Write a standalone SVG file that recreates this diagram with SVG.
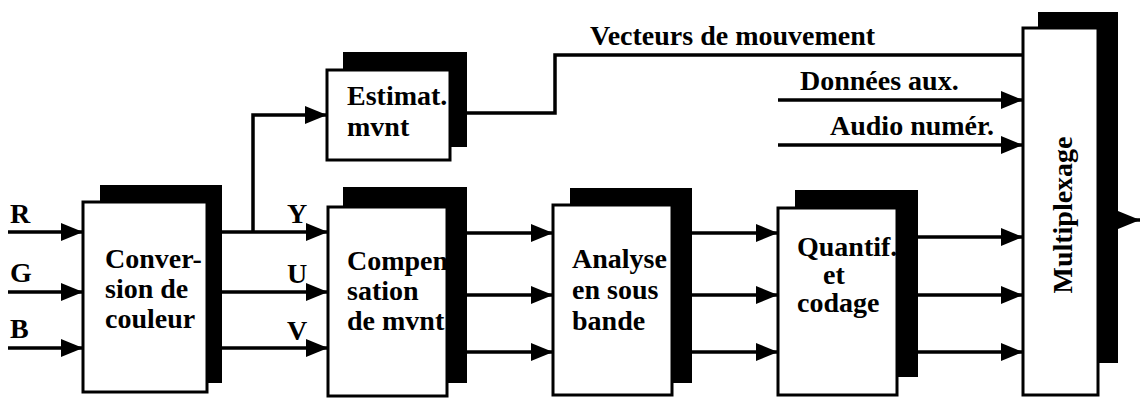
<svg xmlns="http://www.w3.org/2000/svg" width="1140" height="398" viewBox="0 0 1140 398">
<style>
.shadow{fill:#000;stroke:none}
.box{fill:#fff;stroke:#000;stroke-width:3}
.t{font-size:28px;font-weight:bold;fill:#000}
.lbl{font-size:28px;font-weight:bold;fill:#000}
.c{fill:none;stroke:#000;stroke-width:3.5}
</style>
<defs>
<marker id="ah" markerUnits="userSpaceOnUse" markerWidth="22" markerHeight="18" refX="22" refY="9" orient="auto">
<path d="M0,0 L22,9 L0,18 z" fill="#000"/>
</marker>
</defs>
<rect width="1140" height="398" fill="#fff"/>

<g id="connectors" font-family="'Liberation Serif', 'DejaVu Serif', serif">
<line class="c" x1="8" y1="232" x2="83" y2="232" marker-end="url(#ah)"/>
<line class="c" x1="8" y1="292" x2="83" y2="292" marker-end="url(#ah)"/>
<line class="c" x1="8" y1="348" x2="83" y2="348" marker-end="url(#ah)"/>
<line class="c" x1="222" y1="232" x2="328" y2="232" marker-end="url(#ah)"/>
<line class="c" x1="222" y1="292" x2="328" y2="292" marker-end="url(#ah)"/>
<line class="c" x1="222" y1="348" x2="328" y2="348" marker-end="url(#ah)"/>
<polyline class="c" points="253,232 253,115 327,115" marker-end="url(#ah)"/>
<polyline class="c" points="467,113 555,113 555,55 1023,55"/>
<line class="c" x1="467" y1="233" x2="553" y2="233" marker-end="url(#ah)"/>
<line class="c" x1="467" y1="295" x2="553" y2="295" marker-end="url(#ah)"/>
<line class="c" x1="467" y1="352" x2="553" y2="352" marker-end="url(#ah)"/>
<line class="c" x1="692" y1="233" x2="778" y2="233" marker-end="url(#ah)"/>
<line class="c" x1="692" y1="295" x2="778" y2="295" marker-end="url(#ah)"/>
<line class="c" x1="692" y1="352" x2="778" y2="352" marker-end="url(#ah)"/>
<line class="c" x1="918" y1="237" x2="1023" y2="237" marker-end="url(#ah)"/>
<line class="c" x1="918" y1="295" x2="1023" y2="295" marker-end="url(#ah)"/>
<line class="c" x1="918" y1="352" x2="1023" y2="352" marker-end="url(#ah)"/>
<line class="c" x1="778" y1="100" x2="1023" y2="100" marker-end="url(#ah)"/>
<line class="c" x1="778" y1="145" x2="1023" y2="145" marker-end="url(#ah)"/>
<line class="c" x1="1116" y1="220" x2="1140" y2="220" marker-end="url(#ah)"/>
<text class="lbl" x="10" y="223">R</text>
<text class="lbl" x="10" y="282">G</text>
<text class="lbl" x="10" y="338">B</text>
<text class="lbl" x="287" y="223">Y</text>
<text class="lbl" x="287" y="283">U</text>
<text class="lbl" x="287" y="340">V</text>
<text class="t" x="590" y="45">Vecteurs de mouvement</text>
<text class="t" x="800" y="90">Données aux.</text>
<text class="t" x="830" y="135">Audio numér.</text>
</g>

<g id="conversion" font-family="'Liberation Serif', 'DejaVu Serif', serif">
<rect class="shadow" x="100" y="185" width="122" height="198"/>
<rect class="box" x="83" y="202" width="124" height="190"/>
<text class="t" x="105" y="268">Conver-</text>
<text class="t" x="105" y="298">sion de</text>
<text class="t" x="105" y="328">couleur</text>
</g>

<g id="estimat" font-family="'Liberation Serif', 'DejaVu Serif', serif">
<rect class="shadow" x="343" y="52" width="124" height="95"/>
<rect class="box" x="327" y="70" width="123" height="90"/>
<text class="t" x="347" y="105">Estimat.</text>
<text class="t" x="347" y="136">mvnt</text>
</g>

<g id="compensation" font-family="'Liberation Serif', 'DejaVu Serif', serif">
<rect class="shadow" x="343" y="187" width="124" height="196"/>
<rect class="box" x="328" y="207" width="119" height="189"/>
<text class="t" x="347" y="270">Compen</text>
<text class="t" x="347" y="300">sation</text>
<text class="t" x="347" y="330">de mvnt</text>
</g>

<g id="analyse" font-family="'Liberation Serif', 'DejaVu Serif', serif">
<rect class="shadow" x="570" y="188" width="122" height="195"/>
<rect class="box" x="553" y="205" width="119" height="190"/>
<text class="t" x="572" y="268">Analyse</text>
<text class="t" x="572" y="299">en sous</text>
<text class="t" x="572" y="330">bande</text>
</g>

<g id="quantif" font-family="'Liberation Serif', 'DejaVu Serif', serif">
<rect class="shadow" x="795" y="190" width="123" height="187"/>
<rect class="box" x="778" y="208" width="119" height="187"/>
<text class="t" x="797" y="256" font-size="27">Quantif.</text>
<text class="t" x="834" y="284" font-size="27" text-anchor="middle">et</text>
<text class="t" x="797" y="312" font-size="27">codage</text>
</g>

<g id="multiplexage" font-family="'Liberation Serif', 'DejaVu Serif', serif">
<rect class="shadow" x="1038" y="12" width="80" height="351"/>
<rect class="box" x="1023" y="28" width="75" height="367"/>
<text class="t" x="1072" y="215" text-anchor="middle" transform="rotate(-90 1072 215)">Multiplexage</text>
</g>
</svg>
